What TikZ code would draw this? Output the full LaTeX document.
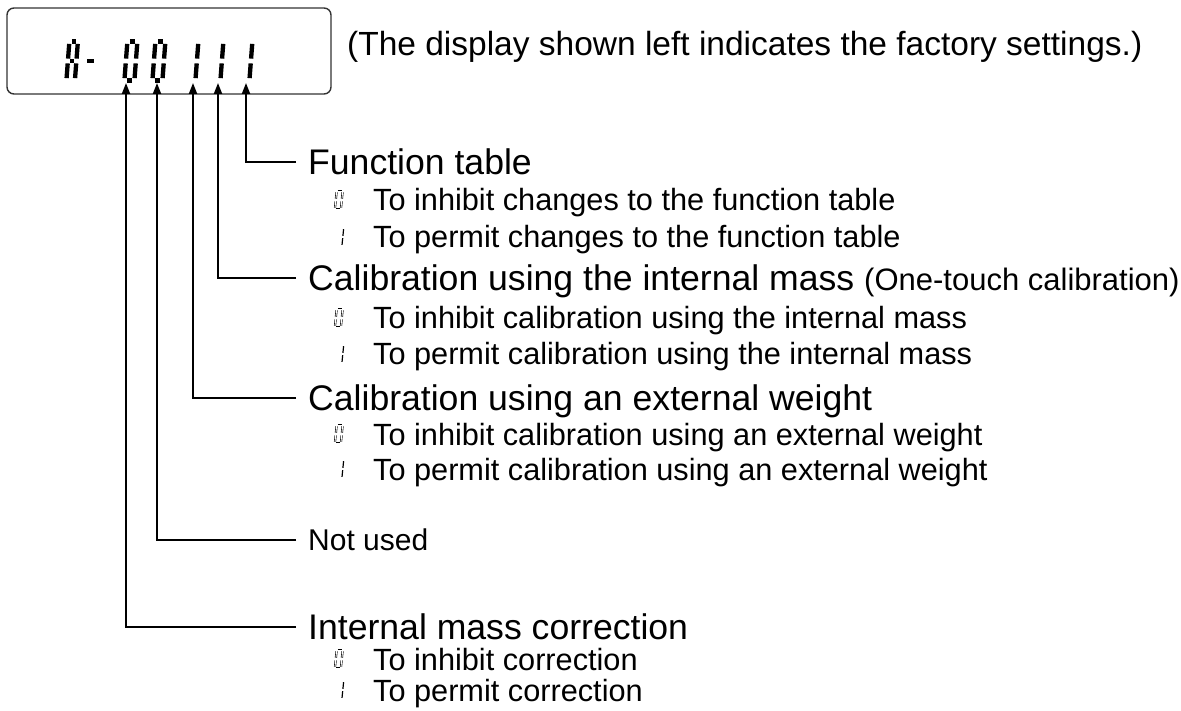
\documentclass[tikz,border=0pt]{standalone}
\usepackage{fontspec}
\setmainfont{Liberation Sans}
\usetikzlibrary{arrows.meta}

\tikzset{
  seg a/.style={insert path={(0,0) -- (1,0)}},
  seg b/.style={insert path={(1,0) -- (1,1)}},
  seg c/.style={insert path={(1,1) -- (1,2)}},
  seg d/.style={insert path={(1,2) -- (0,2)}},
  seg e/.style={insert path={(0,2) -- (0,1)}},
  seg f/.style={insert path={(0,1) -- (0,0)}},
  seg g/.style={insert path={(0,1) -- (1,1)}},
  lcdseg/.style={line width=4.3pt, shorten <=2.4pt, shorten >=2.4pt},
  miniseg/.style={line width=0.6pt, double=white, double distance=0.9pt, shorten <=1.2pt, shorten >=1.2pt},
  thinseg/.style={line width=1.2pt, shorten <=1.2pt, shorten >=1.2pt},
  pics/lcddigit/.style={code={\foreach \s in {#1} \draw[lcdseg, seg \s];}},
  pics/minizero/.style={code={\foreach \s in {a,b,c,d,e,f} \draw[miniseg, seg \s];}},
  pics/minione/.style={code={\foreach \s in {b,c} \draw[thinseg, seg \s];}},
  head/.style={font=\fontsize{35.6}{42}\selectfont, anchor=west, inner xsep=12pt, inner ysep=0pt, text height=25.5pt, text depth=0pt},
  sub/.style={font=\fontsize{30}{36}\selectfont, anchor=west, inner xsep=12pt, inner ysep=0pt, text height=21.5pt, text depth=0pt},
  item/.style={font=\fontsize{30.7}{36}\selectfont, anchor=west, inner sep=0pt, text height=22pt, text depth=0pt},
  wire/.style={line width=2pt, -{Triangle[length=11pt, width=8pt]}},
  big/.style={xscale=10, yscale=19.5, xslant=0.15},
  small/.style={xscale=6, yscale=9, xslant=0.15}
}

\begin{document}
\begin{tikzpicture}[x={(1pt,0)}, y={(0,-1pt)}]
  \useasboundingbox (0,0) rectangle (1181,711);

  \draw [line width=1.4pt, black!80, rounded corners=7pt] (7,8) rectangle (331,94);
  \pic [big, xscale=0.85] at (69.4,41.5) {lcddigit={a,b,c,e,f,g}};
  \pic [big, xscale=1.2] at (86.2,41.5) {lcddigit={g}};
  \pic [big] at (127.4,41.5) {lcddigit={a,b,c,d,e,f}};
  \pic [big] at (155.4,41.5) {lcddigit={a,b,c,d,e,f}};
  \pic [big] at (188.4,41.5) {lcddigit={b,c}};
  \pic [big] at (213.4,41.5) {lcddigit={b,c}};
  \pic [big] at (242.4,41.5) {lcddigit={b,c}};

  \node [item, font=\fontsize{33.5}{40}\selectfont] (note) at (347,45) {(The display shown left indicates the factory settings.)};

  \coordinate (bit1) at (126,83);
  \coordinate (bit2) at (157,83);
  \coordinate (bit3) at (193,83);
  \coordinate (bit4) at (218,83);
  \coordinate (bit5) at (246,83);

  \node [head] (lockfunc) at (296,162) {Function table};
  \node [head] (calint) at (296,278) {Calibration using the internal mass {\fontsize{31}{36}\selectfont (One-touch calibration)}};
  \node [head] (calext) at (296,398) {Calibration using an external weight};
  \node [sub] (unused) at (296,540) {Not used};
  \node [head] (masscorr) at (296,627) {Internal mass correction};

  \draw [wire] (lockfunc.west) -| (bit5);
  \draw [wire] (calint.west) -| (bit4);
  \draw [wire] (calext.west) -| (bit3);
  \draw [wire] (unused.west) -| (bit2);
  \draw [wire] (masscorr.west) -| (bit1);

  \pic [small] at (336.7,191) {minizero};
  \node [item] (funcoff) at (373,200) {To inhibit changes to the function table};
  \pic [small] at (337.7,228) {minione};
  \node [item] (funcon) at (373,237) {To permit changes to the function table};

  \pic [small] at (336.7,309) {minizero};
  \node [item] (intoff) at (373,318) {To inhibit calibration using the internal mass};
  \pic [small] at (337.7,345) {minione};
  \node [item] (inton) at (373,354) {To permit calibration using the internal mass};

  \pic [small] at (336.7,425) {minizero};
  \node [item] (extoff) at (373,434) {To inhibit calibration using an external weight};
  \pic [small] at (337.7,460) {minione};
  \node [item] (exton) at (373,469) {To permit calibration using an external weight};

  \pic [small] at (336.7,650) {minizero};
  \node [item] (corroff) at (373,659) {To inhibit correction};
  \pic [small] at (337.7,681) {minione};
  \node [item] (corron) at (373,690) {To permit correction};
\end{tikzpicture}
\end{document}
